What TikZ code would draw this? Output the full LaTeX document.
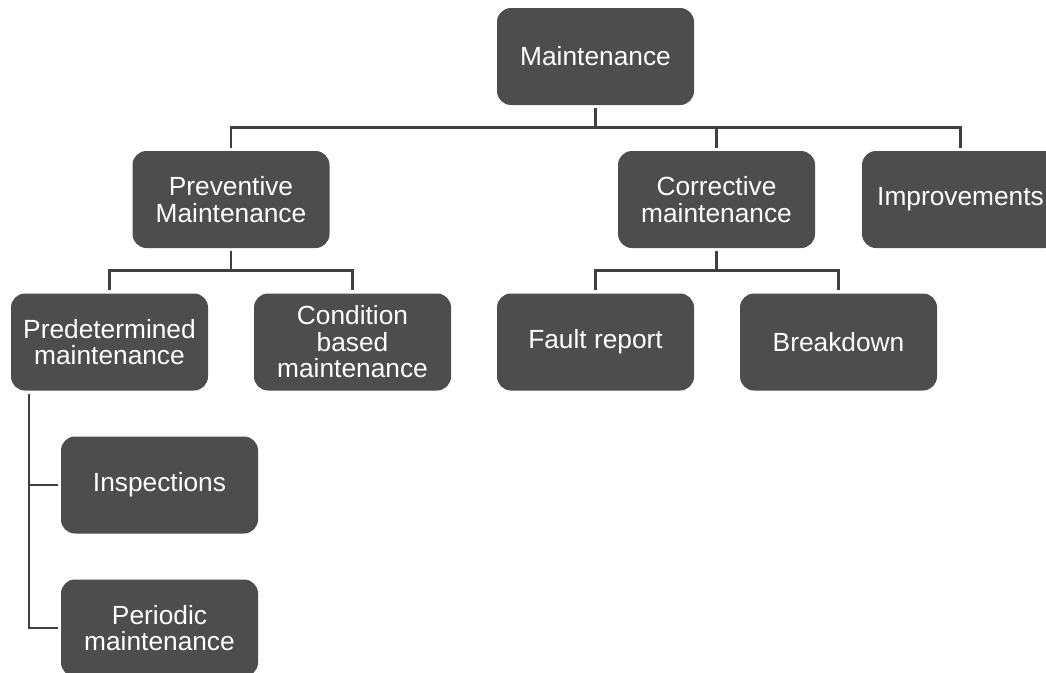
\documentclass[tikz,border=0pt]{standalone}
\usepackage{fontspec}
\setmainfont{Liberation Sans}
\definecolor{boxgray}{HTML}{4D4D4D}
\definecolor{linegray}{HTML}{404040}
\begin{document}
\begin{tikzpicture}[x=1pt,y=-1pt,
  box/.style={draw=none, fill=boxgray, text=white, rounded corners=14pt,
    minimum width=197pt, minimum height=97pt, inner sep=0pt, align=center,
    font=\fontsize{26.3}{26.5}\selectfont},
  conn/.style={draw=linegray, line width=2.2pt}]
  \path[use as bounding box, clip] (0,0) rectangle (1046,672);

  % boxes
  \node[box] (M)   at (595.5, 56.5) {Maintenance};
  \node[box] (P)   at (231, 199.5)  {Preventive\\Maintenance};
  \node[box] (C)   at (716.5, 199.5) {Corrective\\maintenance};
  \node[box] (I)   at (960.5, 199.5) {Improvements};
  \node[box] (Pd)  at (109.5, 342)  {Predetermined\\maintenance};
  \node[box] (Cb)  at (352.5, 342)  {Condition\\based\\maintenance};
  \node[box] (F)   at (595.5, 342)  {Fault report};
  \node[box] (B)   at (838.5, 342)  {Breakdown};
  \node[box] (Ins) at (159.5, 485)  {Inspections};
  \node[box] (Per) at (159.5, 628)  {Periodic\\maintenance};

  % bus lines
  \coordinate (bus1) at (0,127.5);
  \coordinate (bus2) at (0,270.5);
  \coordinate (side) at (29,0);

  % Maintenance -> second row
  \draw[conn] ([yshift=-3pt]M.south) -- (M.south |- bus1);
  \draw[conn] ([yshift=3pt]P.north) -- (P.north |- bus1) -- (I.north |- bus1) -- ([yshift=3pt]I.north);
  \draw[conn] ([yshift=3pt]C.north) -- (C.north |- bus1);

  % Preventive -> third row
  \draw[conn] ([yshift=-3pt]P.south) -- (P.south |- bus2);
  \draw[conn] ([yshift=3pt]Pd.north) -- (Pd.north |- bus2) -- (Cb.north |- bus2) -- ([yshift=3pt]Cb.north);

  % Corrective -> third row
  \draw[conn] ([yshift=-3pt]C.south) -- (C.south |- bus2);
  \draw[conn] ([yshift=3pt]F.north) -- (F.north |- bus2) -- (B.north |- bus2) -- ([yshift=3pt]B.north);

  % Predetermined -> side branches
  \draw[conn] ([yshift=-3pt]Pd.south -| side) -- (side |- Per.west) -- ([xshift=-3pt]Per.west);
  \draw[conn] (side |- Ins.west) -- ([xshift=-3pt]Ins.west);
\end{tikzpicture}
\end{document}
